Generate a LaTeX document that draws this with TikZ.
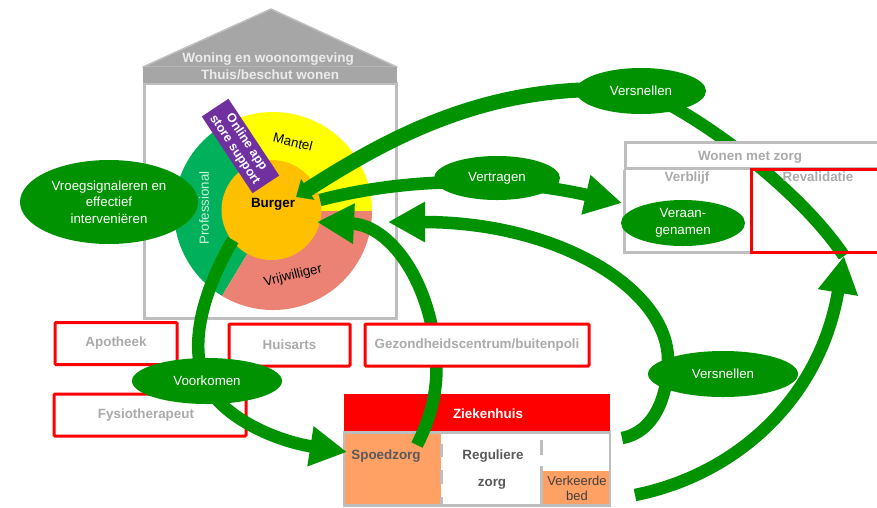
\documentclass[tikz,border=0pt]{standalone}
\usepackage{fontspec}
\setmainfont{Liberation Sans}
\usetikzlibrary{arrows.meta,shapes.geometric}
\definecolor{grn}{RGB}{0,146,0}
\definecolor{gry}{RGB}{190,190,190}
\definecolor{roof}{RGB}{166,166,166}
\definecolor{txtg}{RGB}{170,170,170}
\definecolor{orng}{RGB}{255,160,100}
\definecolor{ylw}{RGB}{255,255,0}
\definecolor{prof}{RGB}{0,176,90}
\definecolor{salm}{RGB}{236,130,115}
\definecolor{burg}{RGB}{255,192,0}
\definecolor{purp}{RGB}{112,48,160}
\definecolor{rd}{RGB}{255,0,0}
\tikzset{
 oval/.style={ellipse,fill=grn,text=white,inner sep=0pt,align=center,font=\fontsize{13.3}{16.5}\selectfont},
 redbox/.style={draw=rd,line width=3pt,rounded corners=1pt,fill=white,inner sep=0pt,text=txtg,font=\bfseries\fontsize{13.4}{15}\selectfont},
 flow/.style={draw=grn,line width=12.5pt},
 flowhead/.style={flow,-{Triangle[length=37pt,width=38pt]}},
 flowsmall/.style={draw=grn,line width=15pt,-{Triangle[length=14pt,width=24pt]}},
 grayt/.style={text=txtg,font=\bfseries\fontsize{13.4}{15}\selectfont,inner sep=0pt},
 darkt/.style={text=black!65,font=\bfseries\fontsize{13.4}{15}\selectfont,inner sep=0pt},
 plaint/.style={font=\fontsize{13.3}{15}\selectfont,inner sep=0pt},
 rooft/.style={text=white!92!black,font=\bfseries\fontsize{13.5}{15}\selectfont,inner sep=0pt}
}
\begin{document}
\begin{tikzpicture}[x=1pt,y=-1pt]
\useasboundingbox (0,0) rectangle (877,507);
% house
\fill[roof,draw=gry,line width=1.5pt,line join=round] (143,67) -- (271,9) -- (397,67) -- cycle;
\node[draw=gry,line width=3pt,fill=white,minimum width=252pt,minimum height=235pt,inner sep=0pt] (house) at (270,200.5) {};
\fill[roof] (143,67) rectangle (397,83);
\node[rooft] (woning) at (268,59) {Woning en woonomgeving};
\node[rooft] (thuis) at (270,75) {Thuis/beschut wonen};
% rings
\coordinate (c) at (273,211);
\fill[ylw] (c) -- ++(0:99pt) arc[start angle=0,end angle=120,radius=99pt] -- cycle;
\fill[prof] (c) -- ++(120:99pt) arc[start angle=120,end angle=239,radius=99pt] -- cycle;
\fill[salm] (c) -- ++(239:99pt) arc[start angle=239,end angle=360,radius=99pt] -- cycle;
\node[circle,fill=burg,minimum size=100pt,inner sep=0pt] (burger) at (271.5,210) {};
\node[plaint,rotate=-14,text=black] (mantel) at (293,142) {Mantel};
\node[plaint,rotate=90,text=white!80!prof] (prof) at (204,208) {Professional};
\node[plaint,rotate=14,text=black] (vrij) at (293,276) {Vrijwilliger};
% ziekenhuis
\node[fill=rd,minimum width=266pt,minimum height=38pt,inner sep=0pt] (zh) at (477,413) {};
\node[text=white,font=\bfseries\fontsize{13.4}{15}\selectfont,inner sep=0pt] (zht) at (488,414) {Ziekenhuis};
\fill[orng] (345,433) rectangle (441,505);
\fill[orng] (543,471) rectangle (610,505);
\draw[gry,line width=2.5pt] (344,505.5) -- (344,432.5) -- (610,432.5) -- (610,505.5) -- cycle;
\draw[gry,line width=3pt] (441,444) -- (441,457);
\draw[gry,line width=3pt] (441,470) -- (441,484);
\draw[gry,line width=3pt] (441,497) -- (441,505);
\draw[gry,line width=3pt] (541,440) -- (541,455);
\draw[gry,line width=3pt] (541,466) -- (541,505);
\node[darkt] (spoed) at (386,456) {Spoedzorg};
\node[darkt] (reg) at (493,456) {Reguliere};
\node[darkt] (zorg) at (492,484) {zorg};
\node[plaint,text=black!75,align=center,font=\fontsize{13}{15}\selectfont] (vkb) at (577,488.5) {Verkeerde\\bed};
% flows behind boxes
\coordinate (vs1c) at (641,91);
\coordinate (burgTop) at (296,197);
\coordinate (burgMid) at (320,200);
\coordinate (burgLow) at (317,222);
\coordinate (spoedTop) at (417,445);
\coordinate (gezMid) at (435,345);
\coordinate (gezTip) at (388,222);
\coordinate (zhRight) at (622,438);
\coordinate (zhLow) at (635,495);
\coordinate (revTip) at (844,256);
\coordinate (wonTip) at (622,203);
\coordinate (spoedTip) at (347,452);
\coordinate (burgOut) at (233,240);
\coordinate (voorKnee) at (200,365);
\coordinate (zhKnee) at (668,360);
\draw[flow] (vs1c) .. controls (700,115) and (800,190) .. (revTip);
\draw[flowsmall] (vs1c) .. controls (500,80) and (400,130) .. (burgTop);
\node[oval,minimum width=130pt,minimum height=46pt] (vs1) at (vs1c) {Versnellen};
\draw[flowhead] (zhRight) .. controls (655,432) and (668,395) .. (zhKnee) .. controls (668,290) and (560,222) .. (gezTip);
\draw[flow] (spoedTop) .. controls (432,415) and (440,385) .. (gezMid);
\draw[flowhead] (gezMid) .. controls (425,270) and (385,225) .. (burgLow);
\node[redbox,minimum width=122pt,minimum height=42pt] (apo) at (116,343.5) {\raisebox{-1.5pt}{Apotheek}};
\node[redbox,minimum width=121pt,minimum height=42pt] (huis) at (289.5,345) {\raisebox{-1.5pt}{Huisarts}};
\node[redbox,minimum width=224pt,minimum height=42pt] (gez) at (477,345) {\raisebox{-1.5pt}{Gezondheidscentrum/buitenpoli}};
\node[redbox,minimum width=192pt,minimum height=42pt] (fys) at (150,415) {\hspace*{-8pt}\raisebox{-1.5pt}{Fysiotherapeut}};
\draw[flowhead] (burgOut) .. controls (212,275) and (192,325) .. (voorKnee) .. controls (205,410) and (270,440) .. (spoedTip);
\draw[flowhead] (zhLow) .. controls (735,475) and (820,400) .. (revTip);
\draw[flowhead] (burgMid) .. controls (430,172) and (530,182) .. (wonTip);
% wonen met zorg
\node[draw=gry,line width=3pt,fill=white,minimum width=253pt,minimum height=26pt,inner sep=0pt] (wonen) at (752,155.5) {};
\node[grayt] (wonent) at (750,157) {Wonen met zorg};
\node[grayt] (verbl) at (687,178) {Verblijf};
\node[grayt] (reval) at (818,177) {Revalidatie};
\draw[gry,line width=3pt] (877,252) -- (624,252) -- (624,170);
\draw[rd,line width=3pt] (877,169) -- (751,169) -- (751,252) -- (877,252);
\node[oval,minimum width=124pt,minimum height=46pt] (ver) at (683,223) {Veraan-\\genamen};
% ovals
\node[oval,minimum width=178pt,minimum height=84pt] (vroeg) at (109,202) {Vroegsignaleren en\\effectief\\interveniëren};
\node[oval,minimum width=126pt,minimum height=44pt] (vertr) at (497,178) {Vertragen};
\node[oval,minimum width=150pt,minimum height=46pt] (voor) at (207,381) {Voorkomen};
\node[oval,minimum width=150pt,minimum height=46pt] (vs2) at (723,374) {Versnellen};
% purple
\node[fill=purp,text=white,rotate=-56.5,minimum width=92pt,minimum height=32pt,inner sep=0pt,align=center,font=\bfseries\fontsize{12.5}{14}\selectfont] (online) at (240.5,146) {Online app\\store support};
\node[font=\bfseries\fontsize{13.4}{15}\selectfont,inner sep=0pt] (burgert) at (273,204) {Burger};
\end{tikzpicture}
\end{document}
